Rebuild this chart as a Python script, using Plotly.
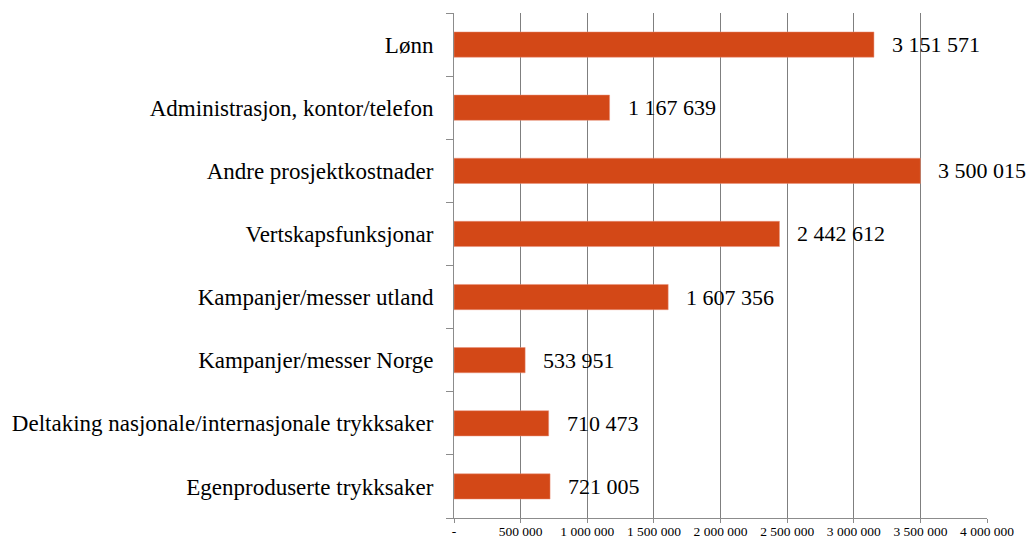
import plotly.graph_objects as go

categories = [
    "Lønn",
    "Administrasjon, kontor/telefon",
    "Andre prosjektkostnader",
    "Vertskapsfunksjonar",
    "Kampanjer/messer utland",
    "Kampanjer/messer Norge",
    "Deltaking nasjonale/internasjonale trykksaker",
    "Egenproduserte trykksaker",
]
values = [3151571, 1167639, 3500015, 2442612, 1607356, 533951, 710473, 721005]
x_tickvals = [0, 500000, 1000000, 1500000, 2000000, 2500000, 3000000, 3500000, 4000000]
x_ticktext = ["-", "500 000", "1 000 000", "1 500 000", "2 000 000", "2 500 000",
              "3 000 000", "3 500 000", "4 000 000"]

def fmt(v):
    return f"{v:,}".replace(",", " ")

FONT = "'Liberation Serif', 'Times New Roman', serif"
fig = go.Figure()
fig.add_trace(go.Bar(
    y=categories, x=values, orientation="h",
    marker=dict(color="#D34817", line=dict(color="#E8907A", width=0.5)),
    width=0.4,
))
for c, v in zip(categories, values):
    fig.add_annotation(x=v, y=c, text=fmt(v), showarrow=False, xanchor="left",
                       xshift=16, font=dict(family=FONT, size=22, color="#000000"))

fig.update_layout(
    width=1030, height=543,
    margin=dict(l=454, r=43, t=13, b=25),
    paper_bgcolor="white", plot_bgcolor="white",
    showlegend=False,
    font=dict(family=FONT, color="#000000"),
)
fig.update_xaxes(
    range=[0, 4000000], tickvals=x_tickvals, ticktext=x_ticktext,
    showgrid=True, gridcolor="#7F7F7F", gridwidth=1,
    showline=True, linecolor="#8C8C8C", linewidth=1,
    ticks="outside", ticklen=4, tickcolor="#8C8C8C",
    tickfont=dict(family=FONT, size=13.5, color="#000000"),
    ticklabelstandoff=-3,
    zeroline=False, automargin=False,
)
fig.update_yaxes(
    categoryorder="array", categoryarray=categories[::-1],
    showline=True, linecolor="#8C8C8C", linewidth=1,
    ticks="outside", ticklen=7, tickcolor="#8C8C8C", tickson="boundaries",
    tickfont=dict(family=FONT, size=23, color="#000000"),
    ticklabelstandoff=15,
    showgrid=False, automargin=False,
)
fig.write_html("out.html", config={"displayModeBar": False},
               post_script="document.body.style.margin='0';document.body.style.overflow='hidden';")
